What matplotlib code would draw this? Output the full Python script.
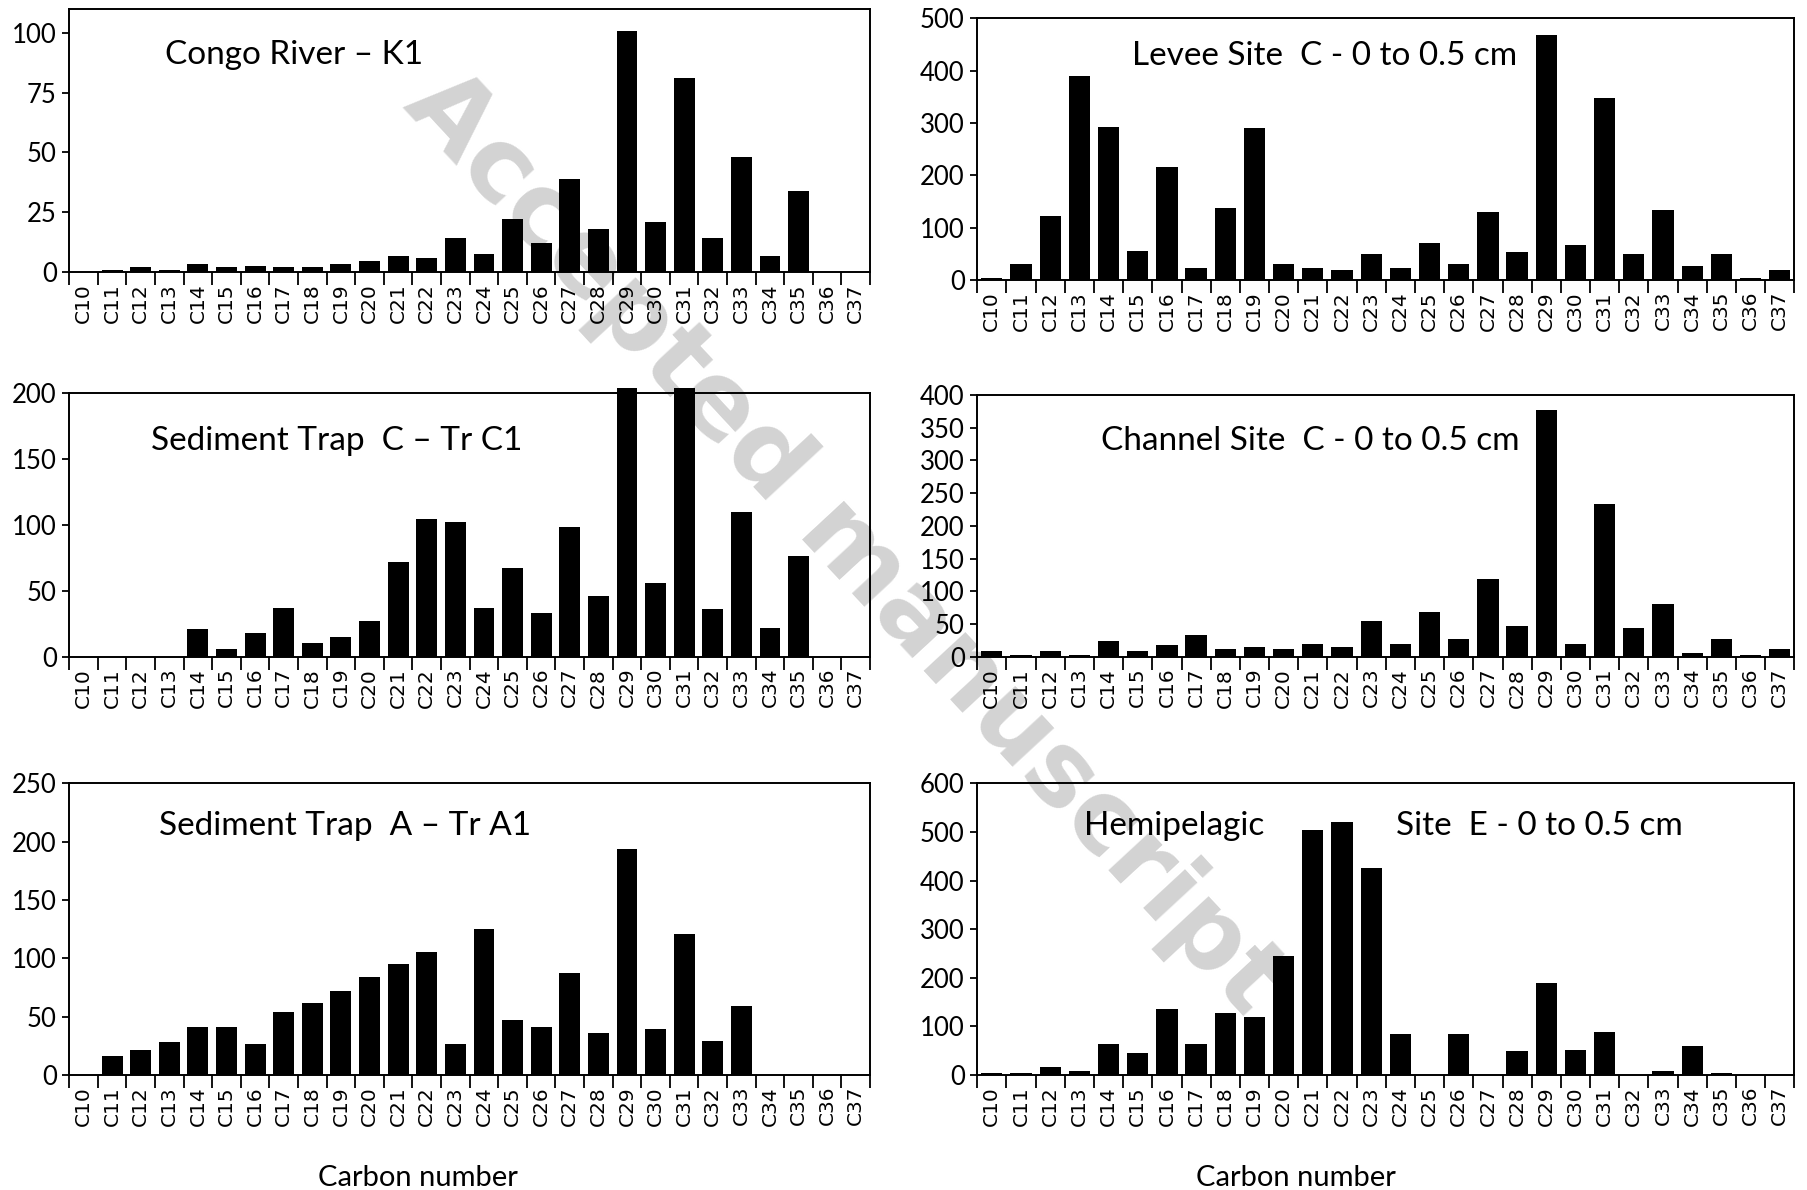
import matplotlib
matplotlib.use("Agg")
import matplotlib.pyplot as plt
import numpy as np

categories = ["C10", "C11", "C12", "C13", "C14", "C15", "C16", "C17", "C18", "C19",
              "C20", "C21", "C22", "C23", "C24", "C25", "C26", "C27", "C28", "C29",
              "C30", "C31", "C32", "C33", "C34", "C35", "C36", "C37"]

congo_k1 = [0, 1, 2, 1, 3.5, 2, 2.5, 2, 2, 3.5, 4.5, 6.5, 6, 14, 7.5, 22, 12, 39, 18,
            101, 21, 81, 14, 48, 6.5, 34, 0, 0]
levee_c = [4, 30, 122, 390, 293, 56, 216, 23, 137, 290, 30, 23, 19, 49, 23, 71, 30, 130,
           53, 468, 67, 348, 49, 133, 26, 49, 4, 19]
trap_c1 = [0, 0, 0, 0, 21, 6, 18, 37, 10, 15, 27, 72, 104, 102, 37, 67, 33, 98, 46,
           204, 56, 204, 36, 110, 22, 76, 0, 0]
channel_c = [9, 3, 9, 3, 24, 9, 18, 33, 12, 15, 12, 20, 15, 54, 20, 68, 27, 118, 47,
             377, 20, 234, 44, 80, 6, 27, 3, 12]
trap_a1 = [0, 16, 21, 28, 41, 41, 26, 54, 62, 72, 84, 95, 105, 26, 125, 47, 41, 87, 36,
           194, 39, 121, 29, 59, 0, 0, 0, 0]
hemi_e = [4, 4, 17, 8, 64, 44, 135, 64, 128, 120, 245, 505, 520, 426, 84, 0, 84, 0, 48,
          190, 52, 88, 0, 8, 60, 4, 0, 0]

titles = ["Congo River \u2013 K1", "Levee Site  C - 0 to 0.5 cm",
          "Sediment Trap  C \u2013 Tr C1", "Channel Site  C - 0 to 0.5 cm",
          "Sediment Trap  A \u2013 Tr A1", "Hemipelagic"]
extra_title = "Site  E - 0 to 0.5 cm"
xlabel = "Carbon number"

fig = plt.figure(figsize=(18.07, 11.90), dpi=100)

# watermark (behind everything)
fig.text(0.467, 0.543, "Accepted manuscript", rotation=-47.2, fontsize=75,
         family="DejaVu Sans", weight="bold", color="#d3d3d3",
         ha="center", va="center", rotation_mode="anchor", zorder=-5)

panels = [
    (congo_k1, 110, [0, 25, 50, 75, 100], [0.0383, 0.7715, 0.4432, 0.2208], (0.119, 0.825)),
    (levee_c, 500, [0, 100, 200, 300, 400, 500], [0.5408, 0.7648, 0.4522, 0.2197], (0.19, 0.855)),
    (trap_c1, 200, [0, 50, 100, 150, 200], [0.0383, 0.4482, 0.4432, 0.2217], (0.102, 0.817)),
    (channel_c, 400, [0, 50, 100, 150, 200, 250, 300, 350, 400], [0.5408, 0.4482, 0.4522, 0.2198], (0.151, 0.824)),
    (trap_a1, 250, [0, 50, 100, 150, 200, 250], [0.0383, 0.0968, 0.4432, 0.2449], (0.112, 0.854)),
    (hemi_e, 600, [0, 100, 200, 300, 400, 500, 600], [0.5408, 0.0968, 0.4522, 0.2449], (0.131, 0.854)),
]
xlabel_x = {4: 0.435, 5: 0.39}

x = np.arange(len(categories))
for i, (vals, ytop, yt, rect, tpos) in enumerate(panels):
    ax = fig.add_axes(rect)
    ax.patch.set_alpha(0)
    ax.bar(x, vals, width=0.73, color="black", clip_on=False, zorder=3)
    ax.set_xlim(-0.5, len(categories) - 0.5)
    ax.set_ylim(0, ytop)
    ax.set_yticks(yt)
    ax.set_yticklabels([str(v) for v in yt], family="Lato", fontsize=18.5)
    ax.set_xticks(np.arange(len(categories) + 1) - 0.5)
    ax.set_xticklabels([])
    ax.set_xticks(x, minor=True)
    ax.set_xticklabels(categories, minor=True, rotation=90, family="DejaVu Sans",
                       fontsize=14.5)
    ax.tick_params(axis="x", which="minor", length=0, pad=8)
    ax.tick_params(axis="x", which="major", direction="out", length=9, width=1.3)
    ax.tick_params(axis="y", direction="out", length=5, width=1.3, pad=4)
    for s in ax.spines.values():
        s.set_linewidth(1.4)
        s.set_zorder(4)
    ax.text(tpos[0], tpos[1], titles[i], transform=ax.transAxes, family="Lato",
            fontsize=24, ha="left", va="center")
    if i == 5:
        ax.text(0.512, tpos[1], extra_title, transform=ax.transAxes, family="Lato",
                fontsize=24, ha="left", va="center")
    if i >= 4:
        ax.text(xlabel_x[i], -0.355, xlabel, transform=ax.transAxes, family="Lato",
                fontsize=21, ha="center", va="center")

fig.savefig("out.png", dpi=100)
